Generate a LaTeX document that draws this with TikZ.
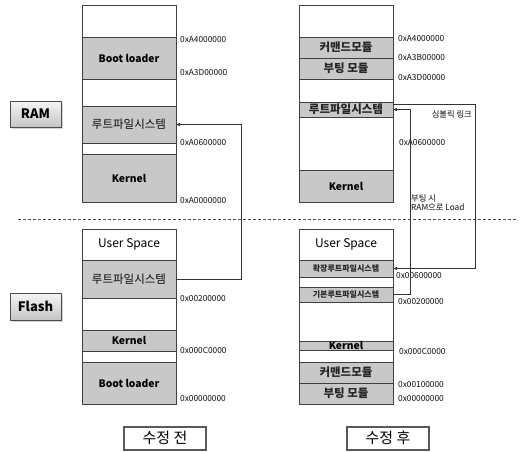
\documentclass[tikz,border=0pt]{standalone}
\usepackage{fontspec}
\setmainfont{Noto Sans CJK KR}
\usetikzlibrary{shadows,arrows.meta}
\definecolor{segfill}{RGB}{200,200,200}
\definecolor{segline}{RGB}{64,64,64}
\begin{document}
\begin{tikzpicture}[x=1pt,y=-1pt,
  seg/.style={draw=segline, line width=0.8pt, minimum width=94pt, inner sep=0pt, outer sep=0pt},
  gseg/.style={seg, fill=segfill},
  wseg/.style={seg, fill=white},
  big/.style={font=\bfseries\fontsize{10.3}{12}\selectfont},
  kor/.style={font=\fontsize{11.5}{12}\selectfont, text=black!95},
  korb/.style={font=\bfseries\fontsize{11.5}{12}\selectfont, text=black!85},
  kors/.style={font=\bfseries\fontsize{8}{10}\selectfont, text=black!85},
  usr/.style={font=\fontsize{12}{13}\selectfont},
  addr/.style={font=\fontsize{8.3}{9}\selectfont, anchor=west, inner sep=0pt, text=black!95},
  note/.style={font=\fontsize{8.3}{9.5}\selectfont, inner sep=0pt, text=black!95, align=left},
  conn/.style={draw=black!80, line width=0.7pt},
  arrowtip/.style={-{Latex[length=4pt,width=3.5pt]}},
  btn/.style={draw=black!70, line width=0.8pt, top color=gray!8, bottom color=gray!45,
    minimum width=51pt, inner sep=0pt, font=\bfseries\fontsize{13}{14}\selectfont,
    drop shadow={opacity=0.35, shadow xshift=1.5pt, shadow yshift=-1.5pt}},
  capbox/.style={draw=black!65, line width=2pt, fill=white, minimum width=82pt, minimum height=23pt,
    inner sep=0pt, font=\fontsize{15}{16}\selectfont,
    drop shadow={opacity=0.3, shadow xshift=1pt, shadow yshift=-1pt}},
  sepline/.style={draw=black!70, line width=0.6pt, dash pattern=on 3pt off 2pt}
]
\useasboundingbox (0,0) rectangle (521,451);

% ---------- left RAM ----------
\node[wseg, minimum height=32pt] (lr0) at (129,21) {};
\node[gseg, minimum height=42pt, label={[big]center:Boot loader}] (lrb) at (129,58) {};
\node[wseg, minimum height=27pt] (lr1) at (129,92.5) {};
\node[gseg, minimum height=37pt, label={[kor]center:루트파일시스템}] (lrf) at (129,124.5) {};
\node[wseg, minimum height=11pt] (lr2) at (129,148.5) {};
\node[gseg, minimum height=48pt, label={[big]center:Kernel}] (lrk) at (129,178) {};

% ---------- left Flash ----------
\node[wseg, minimum height=31pt, label={[usr]center:User Space}] (lfu) at (129,244.5) {};
\node[gseg, minimum height=38pt, label={[kor]center:루트파일시스템}] (lff) at (129,279) {};
\node[wseg, minimum height=32pt] (lf1) at (129,314) {};
\node[gseg, minimum height=21pt, label={[big]center:Kernel}] (lfk) at (129,340.5) {};
\node[wseg, minimum height=11pt] (lf2) at (129,356.5) {};
\node[gseg, minimum height=42pt, label={[big]center:Boot loader}] (lfb) at (129,383) {};

% ---------- right RAM ----------
\node[wseg, minimum height=32pt] (rr0) at (346,21) {};
\node[gseg, minimum height=21pt, label={[korb]center:커맨드모듈}] (rrc) at (346,47.5) {};
\node[gseg, minimum height=21pt, label={[korb]center:부팅 모듈}] (rrb) at (346,68.5) {};
\node[wseg, minimum height=23pt] (rr1) at (346,90.5) {};
\node[gseg, minimum height=15pt, label={[korb]center:루트파일시스템}] (rrf) at (346,109.5) {};
\node[wseg, minimum height=53pt] (rr2) at (346,143.5) {};
\node[gseg, minimum height=32pt, label={[big]center:Kernel}] (rrk) at (346,186) {};

% ---------- right Flash ----------
\node[wseg, minimum height=31pt, label={[usr]center:User Space}] (rfu) at (346,244.5) {};
\node[gseg, minimum height=17pt, label={[kors]center:확장루트파일시스템}] (rfx) at (346,268.5) {};
\node[wseg, minimum height=10pt] (rf1) at (346,282) {};
\node[gseg, minimum height=15pt, label={[kors]center:기본루트파일시스템}] (rfb) at (346,294.5) {};
\node[wseg, minimum height=39pt] (rf2) at (346,321.5) {};
\node[gseg, minimum height=9pt, label={[big]center:Kernel}] (rfk) at (346,345.5) {};
\node[wseg, minimum height=12pt] (rf3) at (346,356) {};
\node[gseg, minimum height=21pt, label={[korb]center:커맨드모듈}] (rfc) at (346,372.5) {};
\node[gseg, minimum height=21pt, label={[korb]center:부팅 모듈}] (rfm) at (346,393.5) {};

% ---------- addresses ----------
\node[addr] (a1) at (180,40) {0xA4000000};
\node[addr] (a2) at (180,73) {0xA3D00000};
\node[addr] (a3) at (180,143) {0xA0600000};
\node[addr] (a4) at (180,201) {0xA0000000};
\node[addr] (a5) at (180,299) {0x00200000};
\node[addr] (a6) at (180,350) {0x000C0000};
\node[addr] (a7) at (180,399) {0x00000000};

\node[addr] (b1) at (398,39) {0xA4000000};
\node[addr] (b2) at (398,58) {0xA3B00000};
\node[addr] (b3) at (398,78) {0xA3D00000};
\node[addr] (b4) at (399,143) {0xA0600000};
\node[addr] (b5) at (396,276) {0x00600000};
\node[addr] (b6) at (398,302) {0x00200000};
\node[addr] (b7) at (399,351) {0x000C0000};
\node[addr] (b8) at (398,385) {0x00100000};
\node[addr] (b9) at (398,399) {0x00000000};

% ---------- notes ----------
\node[note, anchor=east] (sym) at (472,114) {심볼릭 링크};
\node[note, anchor=north west] (load) at (411,194) {부팅 시\\RAM으로 Load};

% ---------- separator ----------
\coordinate (dl) at (18,219);
\coordinate (dr) at (517,219);
\draw[sepline] (dl) -- (dr);

% ---------- connectors ----------
\draw[conn, arrowtip] (lff.east) -- ++(65,0) |- (lrf.east);
\coordinate (sl) at ([yshift=-2pt]rrf.north east);
\draw[conn, arrowtip] (sl) -- ++(82,0) |- (rfx.east);
\draw[conn, arrowtip] (rfb.east) -- ++(17,0) |- (rrf.east);

% ---------- buttons ----------
\node[btn, minimum height=26pt] (ram) at (35.5,114) {RAM};
\node[btn, minimum height=27pt] (flash) at (35.5,306.5) {Flash};
\node[capbox] (before) at (165,438) {수정 전};
\node[capbox] (after) at (388,438) {수정 후};
\end{tikzpicture}
\end{document}
